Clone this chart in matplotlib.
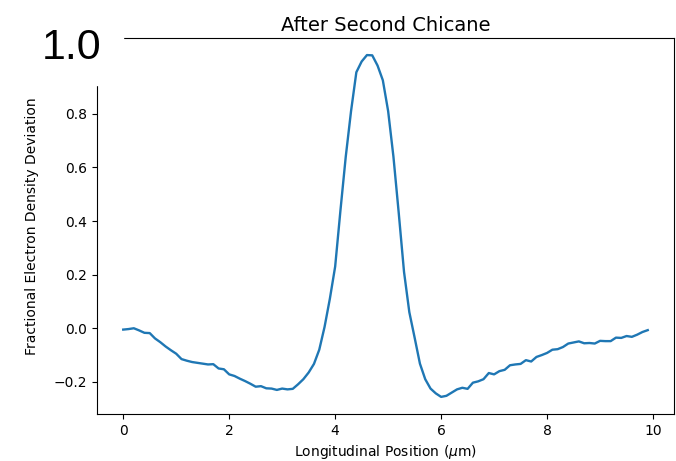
import numpy as np
import matplotlib
matplotlib.use('Agg')
import matplotlib.pyplot as plt
from matplotlib.patches import Rectangle

##data
position = np.round(np.arange(0, 10, 0.1), 1)
deviation = [
    -0.005, -0.003, 0.000, -0.008, -0.017, -0.018, -0.038, -0.052, -0.068, -0.082,
    -0.095, -0.115, -0.121, -0.126, -0.129, -0.132, -0.135, -0.134, -0.150, -0.153,
    -0.172, -0.178, -0.188, -0.197, -0.207, -0.218, -0.216, -0.224, -0.225, -0.230,
    -0.225, -0.228, -0.226, -0.209, -0.190, -0.165, -0.133, -0.080, 0.005, 0.110,
    0.230, 0.440, 0.640, 0.810, 0.955, 0.995, 1.019, 1.018, 0.980, 0.925,
    0.810, 0.640, 0.430, 0.210, 0.060, -0.035, -0.132, -0.190, -0.225, -0.243,
    -0.256, -0.252, -0.240, -0.228, -0.222, -0.226, -0.203, -0.198, -0.190, -0.167,
    -0.172, -0.160, -0.155, -0.138, -0.135, -0.133, -0.119, -0.124, -0.107, -0.100,
    -0.092, -0.080, -0.078, -0.070, -0.057, -0.053, -0.049, -0.056, -0.055, -0.057,
    -0.047, -0.048, -0.048, -0.035, -0.036, -0.029, -0.032, -0.024, -0.014, -0.007,
]
yticks = [-0.2, 0.0, 0.2, 0.4, 0.6, 0.8]

##figure
fig = plt.figure(figsize=(6.76, 4.61), dpi=100)
ax = fig.add_axes([0.1435, 0.102, 0.8535, 0.8156])

ax.plot(position, deviation, color='C0', lw=1.7)
ax.set_yticks(yticks)
ax.set_title('After Second Chicane', fontsize=14, pad=5)
ax.set_xlabel(r'Longitudinal Position ($\mu$m)')
ax.set_ylabel('Fractional Electron Density Deviation', labelpad=11)

# big label for the 1.0 tick, sitting over the top-left corner
ax.add_patch(Rectangle((-0.2, 0.875), 0.245, 0.3, transform=ax.transAxes,
                       color='white', clip_on=False, zorder=3))
ax.annotate('1.0', xy=(0, 1.0), xycoords=ax.get_yaxis_transform(),
            xytext=(4, 1), textcoords='offset pixels', ha='right', va='baseline',
            fontsize=31, family='Liberation Sans', zorder=4, annotation_clip=False)

fig.savefig('out.png', dpi=100)
